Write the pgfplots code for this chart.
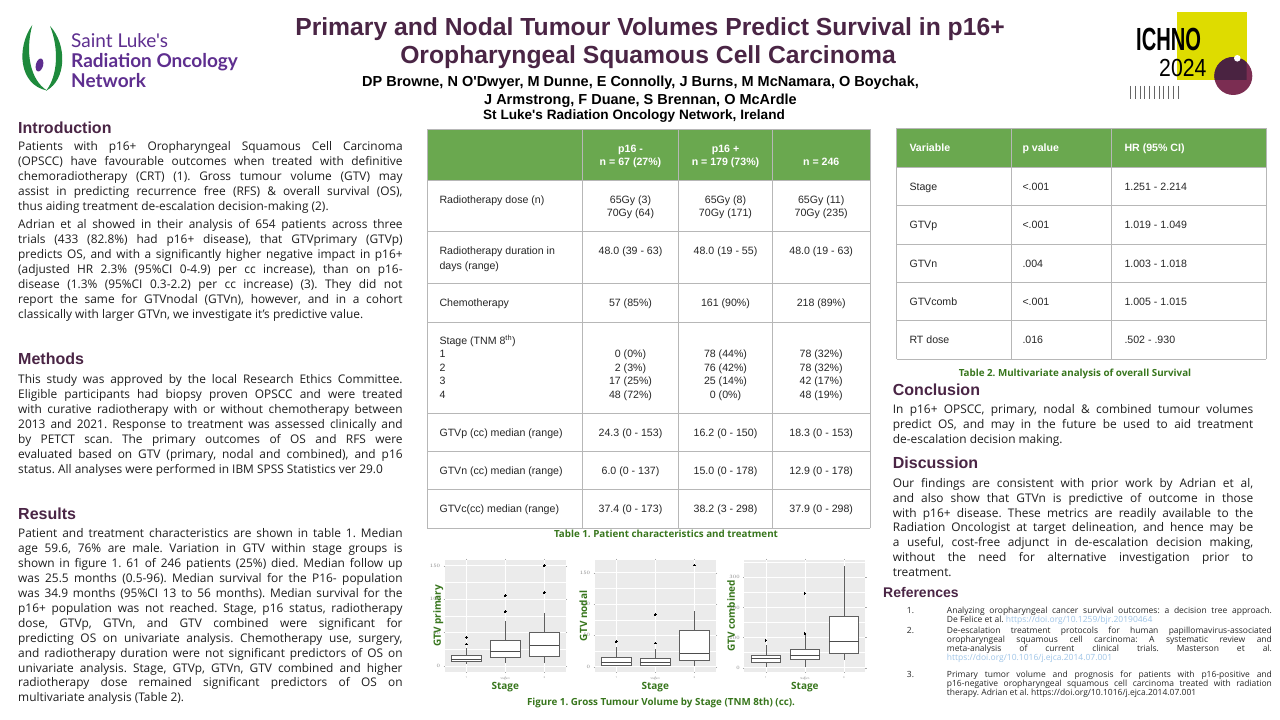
\documentclass[border=0pt]{standalone}
\usepackage{fontspec}
\setmainfont{Open Sans}
\newfontfamily\arial{Liberation Sans}
\newfontfamily\lato{Lato}
\usepackage{graphicx}
\usepackage{pgfplots}
\pgfplotsset{compat=1.18}
\usepgfplotslibrary{statistics}
\frenchspacing

\definecolor{titlepurple}{HTML}{4A2545}
\definecolor{logopurple}{HTML}{5E2E8F}
\definecolor{logogreen}{HTML}{1E8A3C}
\definecolor{hdrgreen}{HTML}{6AA84F}
\definecolor{capgreen}{HTML}{38761D}
\definecolor{tblline}{HTML}{B7B7B7}
\definecolor{panelgray}{HTML}{EBEBEB}
\definecolor{boxgray}{HTML}{5F5F5F}
\definecolor{icyellow}{HTML}{DEDC00}
\definecolor{icmaroon}{HTML}{7B2D52}
\definecolor{icdark}{HTML}{4A2341}
\definecolor{textgray}{HTML}{262626}
\definecolor{bodyblack}{HTML}{1E1E1E}
\definecolor{linkblue}{HTML}{9FC5E8}

\newcommand{\J}[1]{\makebox[\linewidth][s]{#1}}
\newcommand{\bt}{\fontsize{11.9}{14.9}\selectfont}
\newcommand{\hd}{\arial\bfseries\fontsize{16}{19}\selectfont}
\newcommand{\tf}{\arial\fontsize{10.6}{12.5}\selectfont}
\newcommand{\capf}{\bfseries\fontsize{9.8}{11}\selectfont}
\newcommand{\rf}{\fontsize{8.5}{8.8}\selectfont}

\pgfplotsset{
  gbox/.style={
    scale only axis, width=121pt, height=111.7pt,
    xmin=0.45, xmax=3.55,
    xtick={1,2,3}, xticklabels={1,{2\\[-1.2pt]Stage/n},3},
    grid=both,
    major grid style={white, line width=0.7pt},
    minor grid style={white, line width=0.35pt},
    axis background/.style={fill=panelgray},
    axis line style={draw=none},
    tick style={draw=gray!70, line width=0.3pt},
    tick align=outside, major tick length=1.2pt, minor tick length=0pt,
    tick label style={font=\fontsize{2.6}{2.8}\selectfont, text=gray, align=center},
    xlabel={Stage},
    every axis x label/.style={at={(axis description cs:0.5,-0.134)}, anchor=center,
      font=\bfseries\fontsize{10}{12}\selectfont, text=capgreen},
    every axis y label/.style={rotate=90, anchor=center,
      font=\bfseries\fontsize{10}{12}\selectfont, text=capgreen},
    boxplot/draw direction=y,
    boxplot/box extend=0.76,
    boxplot/whisker extend=0,
    boxplot/every median/.style={line width=0.9pt, draw=boxgray!80!black},
  },
  bx/.style={draw=boxgray, line width=0.55pt, fill=white, mark=*, mark size=0.75pt,
    mark options={draw=black, fill=black, line width=0pt}},
}

\begin{document}
\begin{tikzpicture}[x=1pt,y=1pt]
\path[use as bounding box] (0,0) rectangle (1280,720);
\fill[white] (0,0) rectangle (1280,720);

% ---------------- box plots ----------------
\begin{axis}[gbox, at={(444.8pt,48.3pt)}, anchor=south west,
  ymin=-8.5, ymax=158.5, ytick={0,50,100,150}, minor ytick={25,75,125},
  ylabel={GTV primary}, ylabel style={at={(axis description cs:-0.054,0.5)}}]
\addplot[bx, boxplot prepared={draw position=1, lower whisker=2.5, lower quartile=7.0, median=10.0, upper quartile=15.9, upper whisker=26.4}] coordinates {(0,32.9) (0,42.8)};
\addplot[bx, boxplot prepared={draw position=2, lower whisker=4.0, lower quartile=13.0, median=22.4, upper quartile=37.9, upper whisker=67.3}] coordinates {(0,81.2) (0,105.1)};
\addplot[bx, boxplot prepared={draw position=3, lower whisker=4.0, lower quartile=14.9, median=31.4, upper quartile=50.8, upper whisker=79.7}] coordinates {(0,109.6) (0,150)};
\end{axis}

\begin{axis}[gbox, at={(594.8pt,48.3pt)}, anchor=south west,
  ymin=-8, ymax=170.3, ytick={0,50,100,150}, minor ytick={25,75,125},
  ylabel={GTV nodal}, ylabel style={at={(axis description cs:-0.095,0.5)}}]
\addplot[bx, boxplot prepared={draw position=1, lower whisker=1.0, lower quartile=2.7, median=6.9, upper quartile=14.9, upper whisker=30.9}] coordinates {(0,39.9)};
\addplot[bx, boxplot prepared={draw position=2, lower whisker=1.0, lower quartile=2.7, median=6.9, upper quartile=13.3, upper whisker=27.7}] coordinates {(0,37.8) (0,83.0)};
\addplot[bx, boxplot prepared={draw position=3, lower whisker=1.6, lower quartile=9.6, median=21.3, upper quartile=57.4, upper whisker=88.8}] coordinates {(0,162.2)};
\end{axis}

\begin{axis}[gbox, at={(744.4pt,48.3pt)}, anchor=south west,
  ymin=-13.3, ymax=357.4, ytick={0,100,200,300}, minor ytick={50,150,250,350},
  ylabel={GTV combined}, ylabel style={at={(axis description cs:-0.11,0.5)}}]
\addplot[bx, boxplot prepared={draw position=1, lower whisker=3.3, lower quartile=17.7, median=29.9, upper quartile=41.0, upper whisker=75.3}] coordinates {(0,90.8)};
\addplot[bx, boxplot prepared={draw position=2, lower whisker=3.3, lower quartile=26.6, median=42.1, upper quartile=60.9, upper whisker=110.7}] coordinates {(0,112) (0,114) (0,247)};
\addplot[bx, boxplot prepared={draw position=3, lower whisker=26.6, lower quartile=47.6, median=87.5, upper quartile=170.5, upper whisker=338.9}] coordinates {};
\end{axis}

% ---------------- everything else, y measured from the top ----------------
\begin{scope}[y=-1pt, yshift=720pt]
% logo left
\fill[logogreen] (32.3,25) .. controls (16,48) and (19,85) .. (47,90.5)
   .. controls (30,80) and (25,52) .. (32.3,25) -- cycle;
\fill[logogreen] (50,26) .. controls (67,44) and (67,80) .. (46,90.8)
   .. controls (58,76) and (59,48) .. (50,26) -- cycle;
\fill[logopurple, rotate around={-15:(39.5,65)}] (39.5,65) ellipse [x radius=3.6, y radius=6.6];
\node[anchor=base west, inner sep=0, text=logopurple, font=\lato\fontsize{19}{20}\selectfont] at (71,48) {Saint Luke's};
\node[anchor=base west, inner sep=0, text=logopurple, font=\lato\bfseries\fontsize{19}{20}\selectfont] at (71,68) {Radiation Oncology};
\node[anchor=base west, inner sep=0, text=logopurple, font=\lato\bfseries\fontsize{19}{20}\selectfont] at (71,88) {Network};

% ICHNO logo
\fill[icyellow] (1177.3,12.3) rectangle (1246.7,80);
\fill[icmaroon] (1233.3,76) circle (19);
\begin{scope}
\clip (1177.3,12.3) rectangle (1246.7,80);
\fill[icdark] (1233.3,76) circle (19);
\end{scope}
\fill[white] (1237.3,58.3) circle (3.3);
\node[anchor=base west, inner sep=0, font=\arial\bfseries\fontsize{32}{34}\selectfont] at (1136,50.7) {\scalebox{0.63}[1]{ICHNO}};
\node[anchor=base west, inner sep=0, font=\arial\fontsize{24.7}{26}\selectfont] at (1159,77) {\scalebox{0.86}[1]{2024}};
\foreach \i in {0,...,10} {\draw[gray!80!black, line width=0.7pt] (1130.5+4.75*\i,86) -- (1130.5+4.75*\i,99.5);}

% title and authors
\node[anchor=base, inner sep=0, text=titlepurple, font=\arial\bfseries\fontsize{24.7}{28}\selectfont] at (650,35.8) {Primary and Nodal Tumour Volumes Predict Survival in p16+};
\node[anchor=base, inner sep=0, text=titlepurple, font=\arial\bfseries\fontsize{24.7}{28}\selectfont] at (648,63.8) {Oropharyngeal Squamous Cell Carcinoma};
\node[anchor=base, inner sep=0, font=\arial\bfseries\fontsize{14.5}{16}\selectfont] at (640.5,86.2) {DP Browne, N O'Dwyer, M Dunne, E Connolly, J Burns, M McNamara, O Boychak,};
\node[anchor=base, inner sep=0, font=\arial\bfseries\fontsize{14.5}{16}\selectfont] at (640.5,104.2) {J Armstrong, F Duane, S Brennan, O McArdle};
\node[anchor=base, inner sep=0, font=\arial\bfseries\fontsize{13.6}{15}\selectfont] at (634,119.6) {St Luke's Radiation Oncology Network, Ireland};

% left column
\node[anchor=base west, inner sep=0, text=titlepurple, font=\hd] at (18,133.5) {Introduction};
\node[anchor=base west, inner sep=0, text=bodyblack] at (18,151) {\parbox[t]{384.4pt}{\bt
\J{Patients with p16+ Oropharyngeal Squamous Cell Carcinoma}\\
\J{(OPSCC) have favourable outcomes when treated with definitive}\\
\J{chemoradiotherapy (CRT) (1). Gross tumour volume (GTV) may}\\
\J{assist in predicting recurrence free (RFS) \& overall survival (OS),}\\
thus aiding treatment de-escalation decision-making (2).}};
\node[anchor=base west, inner sep=0, text=bodyblack] at (18,229) {\parbox[t]{384.4pt}{\bt
\J{Adrian et al showed in their analysis of 654 patients across three}\\
\J{trials (433 (82.8\%) had p16+ disease), that GTVprimary (GTVp)}\\
\J{predicts OS, and with a significantly higher negative impact in p16+}\\
\J{(adjusted HR 2.3\% (95\%CI 0-4.9) per cc increase), than on p16-}\\
\J{disease (1.3\% (95\%CI 0.3-2.2) per cc increase) (3). They did not}\\
\J{report the same for GTVnodal (GTVn), however, and in a cohort}\\
classically with larger GTVn, we investigate it's predictive value.}};

\node[anchor=base west, inner sep=0, text=titlepurple, font=\hd] at (18,364.5) {Methods};
\node[anchor=base west, inner sep=0, text=bodyblack] at (18,384) {\parbox[t]{384.4pt}{\bt
\J{This study was approved by the local Research Ethics Committee.}\\
\J{Eligible participants had biopsy proven OPSCC and were treated}\\
\J{with curative radiotherapy with or without chemotherapy between}\\
\J{2013 and 2021. Response to treatment was assessed clinically and}\\
\J{by PETCT scan. The primary outcomes of OS and RFS were}\\
\J{evaluated based on GTV (primary, nodal and combined), and p16}\\
status. All analyses were performed in IBM SPSS Statistics ver 29.0}};

\node[anchor=base west, inner sep=0, text=titlepurple, font=\hd] at (18,519.5) {Results};
\node[anchor=base west, inner sep=0, text=bodyblack] at (18,538) {\parbox[t]{384.4pt}{\bt
\J{Patient and treatment characteristics are shown in table 1. Median}\\
\J{age 59.6, 76\% are male. Variation in GTV within stage groups is}\\
\J{shown in figure 1. 61 of 246 patients (25\%) died. Median follow up}\\
\J{was 25.5 months (0.5-96). Median survival for the P16- population}\\
\J{was 34.9 months (95\%CI 13 to 56 months). Median survival for the}\\
\J{p16+ population was not reached. Stage, p16 status, radiotherapy}\\
\J{dose, GTVp, GTVn, and GTV combined were significant for}\\
\J{predicting OS on univariate analysis. Chemotherapy use, surgery,}\\
\J{and radiotherapy duration were not significant predictors of OS on}\\
\J{univariate analysis. Stage, GTVp, GTVn, GTV combined and higher}\\
\J{radiotherapy dose remained significant predictors of OS on}\\
multivariate analysis (Table 2).}};

% Table 1
\fill[hdrgreen] (427.3,129.3) rectangle (870,181);
\foreach \yy in {129.3,181,232,283.3,322.7,413.3,451.7,490,528.3} {\draw[tblline, line width=1pt] (427.3,\yy) -- (870,\yy);}
\foreach \xx in {427.3,582.3,678.7,772.3,870} {\draw[tblline, line width=1pt] (\xx,129.3) -- (\xx,528.3);}
\begin{scope}[every node/.style={inner sep=0, font=\tf, text=textgray}]
\node[anchor=base, text=white, font=\tf\bfseries] at (630.5,153) {p16 -};
\node[anchor=base, text=white, font=\tf\bfseries] at (630.5,166) {n = 67 (27\%)};
\node[anchor=base, text=white, font=\tf\bfseries] at (725.5,153) {p16 +};
\node[anchor=base, text=white, font=\tf\bfseries] at (725.5,166) {n = 179 (73\%)};
\node[anchor=base, text=white, font=\tf\bfseries] at (821.2,166) {n = 246};
\node[anchor=base west] at (439.3,203.7) {Radiotherapy dose (n)};
\node[anchor=base] at (630.5,203.7) {65Gy (3)};
\node[anchor=base] at (630.5,217) {70Gy (64)};
\node[anchor=base] at (725.5,203.7) {65Gy (8)};
\node[anchor=base] at (725.5,217) {70Gy (171)};
\node[anchor=base] at (821.2,203.7) {65Gy (11)};
\node[anchor=base] at (821.2,217) {70Gy (235)};
\node[anchor=base west] at (439.3,254.7) {Radiotherapy duration in};
\node[anchor=base west] at (439.3,269.4) {days (range)};
\node[anchor=base] at (630.5,254.7) {48.0 (39 - 63)};
\node[anchor=base] at (725.5,254.7) {48.0 (19 - 55)};
\node[anchor=base] at (821.2,254.7) {48.0 (19 - 63)};
\node[anchor=base west] at (439.3,306.4) {Chemotherapy};
\node[anchor=base] at (630.5,306.4) {57 (85\%)};
\node[anchor=base] at (725.5,306.4) {161 (90\%)};
\node[anchor=base] at (821.2,306.4) {218 (89\%)};
\node[anchor=base west] at (439.3,344.4) {Stage (TNM 8\textsuperscript{th})};
\node[anchor=base west] at (439.3,357.7) {1};
\node[anchor=base west] at (439.3,371.2) {2};
\node[anchor=base west] at (439.3,384.7) {3};
\node[anchor=base west] at (439.3,398.2) {4};
\node[anchor=base] at (630.5,357.7) {0 (0\%)};
\node[anchor=base] at (630.5,371.2) {2 (3\%)};
\node[anchor=base] at (630.5,384.7) {17 (25\%)};
\node[anchor=base] at (630.5,398.2) {48 (72\%)};
\node[anchor=base] at (725.5,357.7) {78 (44\%)};
\node[anchor=base] at (725.5,371.2) {76 (42\%)};
\node[anchor=base] at (725.5,384.7) {25 (14\%)};
\node[anchor=base] at (725.5,398.2) {0 (0\%)};
\node[anchor=base] at (821.2,357.7) {78 (32\%)};
\node[anchor=base] at (821.2,371.2) {78 (32\%)};
\node[anchor=base] at (821.2,384.7) {42 (17\%)};
\node[anchor=base] at (821.2,398.2) {48 (19\%)};
\node[anchor=base west] at (439.3,436.4) {GTVp (cc) median (range)};
\node[anchor=base] at (630.5,436.4) {24.3 (0 - 153)};
\node[anchor=base] at (725.5,436.4) {16.2 (0 - 150)};
\node[anchor=base] at (821.2,436.4) {18.3 (0 - 153)};
\node[anchor=base west] at (439.3,474.4) {GTVn (cc) median (range)};
\node[anchor=base] at (630.5,474.4) {6.0 (0 - 137)};
\node[anchor=base] at (725.5,474.4) {15.0 (0 - 178)};
\node[anchor=base] at (821.2,474.4) {12.9 (0 - 178)};
\node[anchor=base west] at (439.3,512.4) {GTVc(cc) median (range)};
\node[anchor=base] at (630.5,512.4) {37.4 (0 - 173)};
\node[anchor=base] at (725.5,512.4) {38.2 (3 - 298)};
\node[anchor=base] at (821.2,512.4) {37.9 (0 - 298)};
\end{scope}
\node[anchor=base, inner sep=0, text=capgreen, font=\capf] at (666,537.5) {Table 1. Patient characteristics and treatment};
\node[anchor=base, inner sep=0, text=capgreen, font=\capf] at (661,706) {Figure 1. Gross Tumour Volume by Stage (TNM 8th) (cc).};

% Table 2
\fill[hdrgreen] (896.7,128.3) rectangle (1266,167.7);
\foreach \yy in {128.3,167.7,206,244.3,282.7,321,359.3} {\draw[tblline, line width=1pt] (896.7,\yy) -- (1266,\yy);}
\foreach \xx in {896.7,1011,1111.7,1266} {\draw[tblline, line width=1pt] (\xx,128.3) -- (\xx,359.3);}
\begin{scope}[every node/.style={inner sep=0, font=\tf, text=textgray, anchor=base west}]
\node[text=white, font=\tf\bfseries] at (909.3,152) {Variable};
\node[text=white, font=\tf\bfseries] at (1022.3,152) {p value};
\node[text=white, font=\tf\bfseries] at (1124.3,152) {HR (95\% CI)};
\node at (909.3,190.4) {Stage};   \node at (1022.3,190.4) {<.001}; \node at (1124.3,190.4) {1.251 - 2.214};
\node at (909.3,228.7) {GTVp};    \node at (1022.3,228.7) {<.001}; \node at (1124.3,228.7) {1.019 - 1.049};
\node at (909.3,267.7) {GTVn};    \node at (1022.3,267.7) {.004};  \node at (1124.3,267.7) {1.003 - 1.018};
\node at (909.3,305.4) {GTVcomb}; \node at (1022.3,305.4) {<.001}; \node at (1124.3,305.4) {1.005 - 1.015};
\node at (909.3,343.7) {RT dose}; \node at (1022.3,343.7) {.016};  \node at (1124.3,343.7) {.502 - .930};
\end{scope}
\node[anchor=base, inner sep=0, text=capgreen, font=\capf] at (1075,376.5) {Table 2. Multivariate analysis of overall Survival};

% right column text
\node[anchor=base west, inner sep=0, text=titlepurple, font=\hd] at (892.7,395.5) {Conclusion};
\node[anchor=base west, inner sep=0, text=bodyblack] at (892.7,414) {\parbox[t]{360.3pt}{\bt
\J{In p16+ OPSCC, primary, nodal \& combined tumour volumes}\\
\J{predict OS, and may in the future be used to aid treatment}\\
de-escalation decision making.}};
\node[anchor=base west, inner sep=0, text=titlepurple, font=\hd] at (892.7,468.5) {Discussion};
\node[anchor=base west, inner sep=0, text=bodyblack] at (892.7,487.3) {\parbox[t]{360.3pt}{\bt
\J{Our findings are consistent with prior work by Adrian et al,}\\
\J{and also show that GTVn is predictive of outcome in those}\\
\J{with p16+ disease. These metrics are readily available to the}\\
\J{Radiation Oncologist at target delineation, and hence may be}\\
\J{a useful, cost-free adjunct in de-escalation decision making,}\\
\J{without the need for alternative investigation prior to}\\
treatment.}};

\node[anchor=base west, inner sep=0, text=titlepurple, font=\arial\bfseries\fontsize{14}{16}\selectfont] at (883,598) {References};
\begin{scope}[every node/.style={inner sep=0, anchor=base west, text=textgray, font=\rf}]
\node at (906.7,613.7) {1.};
\node at (906.7,634) {2.};
\node at (906.7,678) {3.};
\node at (946.7,613.7) {\parbox[t]{325pt}{\rf
\J{Analyzing oropharyngeal cancer survival outcomes: a decision tree approach.}\\
De Felice et al. \textcolor{linkblue}{https://doi.org/10.1259/bjr.20190464}}};
\node at (946.7,634) {\parbox[t]{325pt}{\rf
\J{De-escalation treatment protocols for human papillomavirus-associated}\\
\J{oropharyngeal squamous cell carcinoma: A systematic review and}\\
\J{meta-analysis of current clinical trials. Masterson et al.}\\
\textcolor{linkblue}{https://doi.org/10.1016/j.ejca.2014.07.001}}};
\node at (946.7,678) {\parbox[t]{325pt}{\rf
\J{Primary tumor volume and prognosis for patients with p16-positive and}\\
\J{p16-negative oropharyngeal squamous cell carcinoma treated with radiation}\\
therapy. Adrian et al. https://doi.org/10.1016/j.ejca.2014.07.001}};
\end{scope}
\end{scope}
\end{tikzpicture}
\end{document}
